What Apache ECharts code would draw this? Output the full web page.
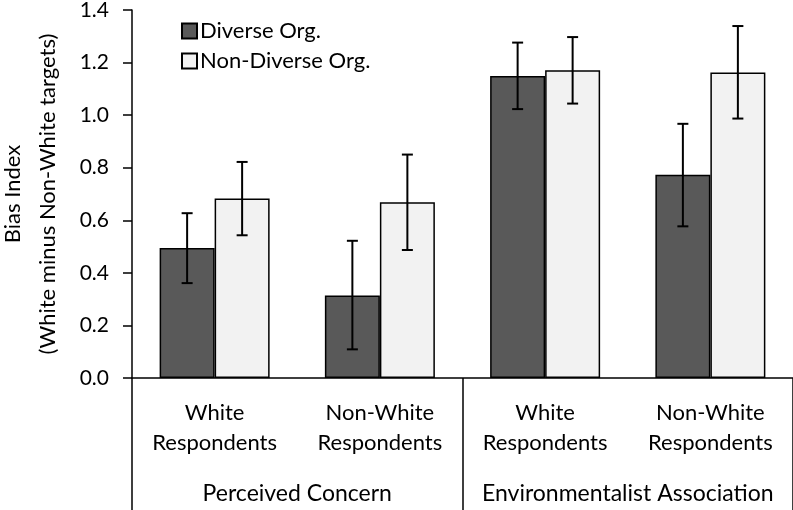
<!DOCTYPE html>
<html>
<head>
<meta charset="utf-8">
<script src="https://cdn.jsdelivr.net/npm/echarts@6/dist/echarts.min.js"></script>
<style>
  html, body { margin: 0; padding: 0; background: #fff; }
  #main { width: 793px; height: 510px; }
</style>
</head>
<body>
<div id="main"></div>
<script>
// values
var categories = ['White\nRespondents', 'Non-White\nRespondents', 'White\nRespondents', 'Non-White\nRespondents'];
var groups = ['Perceived Concern', 'Environmentalist Association'];
var yTicks = [0, 0.2, 0.4, 0.6, 0.8, 1.0, 1.2, 1.4];

var diverse = [0.495, 0.314, 1.149, 0.773];
var diverseLow = [0.361, 0.109, 1.023, 0.577];
var diverseHigh = [0.627, 0.522, 1.276, 0.967];

var nonDiverse = [0.683, 0.669, 1.171, 1.162];
var nonDiverseLow = [0.543, 0.487, 1.044, 0.987];
var nonDiverseHigh = [0.822, 0.850, 1.297, 1.339];

var font = 'Lato';
var barW = 55;

function errData(lo, hi) {
  return lo.map(function (v, i) { return [i, v, hi[i]]; });
}

function errRender(shift) {
  return function (params, api) {
    var lo = api.coord([api.value(0), api.value(1)]);
    var hi = api.coord([api.value(0), api.value(2)]);
    var x = lo[0] + shift;
    var cap = 5.5;
    var st = { stroke: '#000', lineWidth: 2 };
    return {
      type: 'group',
      children: [
        { type: 'line', shape: { x1: x, y1: lo[1], x2: x, y2: hi[1] }, style: st },
        { type: 'line', shape: { x1: x - cap, y1: lo[1], x2: x + cap, y2: lo[1] }, style: st },
        { type: 'line', shape: { x1: x - cap, y1: hi[1], x2: x + cap, y2: hi[1] }, style: st }
      ]
    };
  };
}

var chart = echarts.init(document.getElementById('main'));
chart.setOption({
  animation: false,
  backgroundColor: '#fff',
  textStyle: { fontFamily: font },
  grid: { left: 132, right: 0, top: 10, bottom: 132, containLabel: false, outerBoundsMode: 'none' },
  legend: {
    data: ['Diverse Org.', 'Non-Diverse Org.'],
    orient: 'vertical',
    left: 176,
    top: 15,
    icon: 'rect',
    itemWidth: 15,
    itemHeight: 15,
    itemGap: 8,
    textStyle: { fontFamily: font, fontSize: 22, color: '#000', padding: [0, 0, 0, -2] }
  },
  xAxis: [
    {
      type: 'category',
      data: categories,
      axisLine: { lineStyle: { color: '#000', width: 1.5 } },
      axisTick: { show: false },
      axisLabel: { color: '#000', fontFamily: font, fontSize: 22, lineHeight: 30, margin: 20, interval: 0 }
    },
    {
      type: 'category',
      data: groups,
      position: 'bottom',
      offset: 132,
      axisLine: { show: false },
      axisTick: { show: true, inside: true, interval: 0, length: 132, lineStyle: { color: '#000', width: 1.5 } },
      axisLabel: { inside: true, interval: 0, color: '#000', fontFamily: font, fontSize: 23, margin: 5 }
    }
  ],
  yAxis: {
    type: 'value',
    min: yTicks[0],
    max: yTicks[yTicks.length - 1],
    interval: 0.2,
    name: 'Bias Index\n(White minus Non-White targets)',
    nameLocation: 'middle',
    nameRotate: 90,
    nameGap: 67,
    nameTextStyle: { color: '#000', fontFamily: font, fontSize: 22, lineHeight: 35 },
    axisLine: { show: true, lineStyle: { color: '#000', width: 1.5 } },
    axisTick: { show: true, length: 9, lineStyle: { color: '#000', width: 1.5 } },
    splitLine: { show: false },
    axisLabel: {
      color: '#000', fontFamily: font, fontSize: 21, margin: 23,
      formatter: function (v) { return v.toFixed(1); }
    }
  },
  series: [
    {
      name: 'Diverse Org.',
      type: 'bar',
      data: diverse,
      barWidth: barW,
      barGap: 0,
      itemStyle: { color: '#595959', borderColor: '#000', borderWidth: 1.5 }
    },
    {
      name: 'Non-Diverse Org.',
      type: 'bar',
      data: nonDiverse,
      barWidth: barW,
      barGap: 0,
      itemStyle: { color: '#f2f2f2', borderColor: '#000', borderWidth: 1.5 }
    },
    {
      type: 'custom',
      name: 'errDiverse',
      renderItem: errRender(-barW / 2),
      data: errData(diverseLow, diverseHigh),
      encode: { x: 0, y: [1, 2] },
      z: 10
    },
    {
      type: 'custom',
      name: 'errNonDiverse',
      renderItem: errRender(barW / 2),
      data: errData(nonDiverseLow, nonDiverseHigh),
      encode: { x: 0, y: [1, 2] },
      z: 10
    }
  ]
});
</script>
</body>
</html>
